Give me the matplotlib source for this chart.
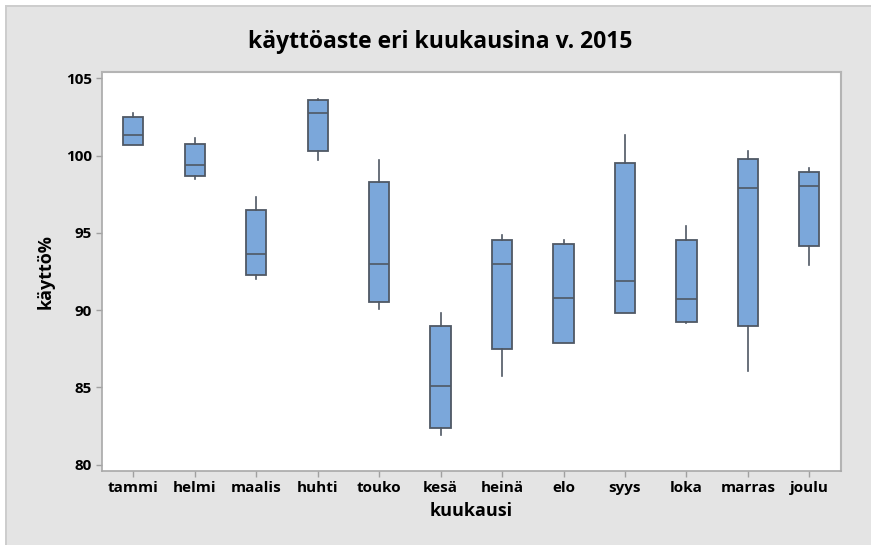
import matplotlib
matplotlib.use("Agg")
import matplotlib.pyplot as plt
from matplotlib.patches import Rectangle

months = ["tammi", "helmi", "maalis", "huhti", "touko", "kesä",
          "heinä", "elo", "syys", "loka", "marras", "joulu"]
whisker_low = [100.65, 98.48, 91.99, 99.68, 90.10, 81.94, 85.77, 87.86, 89.79, 89.15, 86.05, 92.91]
q1 = [100.65, 98.65, 92.25, 100.31, 90.50, 82.37, 87.49, 87.86, 89.79, 89.26, 88.95, 94.18]
median = [101.30, 99.39, 93.64, 102.78, 92.97, 85.10, 92.97, 90.76, 91.88, 90.70, 97.92, 98.01]
q3 = [102.50, 100.76, 96.46, 103.60, 98.29, 88.95, 94.55, 94.26, 99.49, 94.52, 99.75, 98.94]
whisker_high = [102.78, 101.13, 97.30, 103.66, 99.73, 89.84, 94.87, 94.52, 101.30, 95.43, 100.29, 99.19]
yticks = [80, 85, 90, 95, 100, 105]

title = "käyttöaste eri kuukausina v. 2015"
xlabel = "kuukausi"
ylabel = "käyttö%"

plt.rcParams['font.family'] = ['Open Sans', 'DejaVu Sans']

W, H = 871, 545
fig = plt.figure(figsize=(W / 100, H / 100), dpi=100)
fig.patch.set_facecolor("white")
# gray panel with shadow edge
fig.patches.append(Rectangle((5 / W, 0), 1 - 5 / W, 1 - 5 / H, transform=fig.transFigure,
                             facecolor="#e4e4e4", edgecolor="none", zorder=-3))
fig.patches.append(Rectangle((5 / W, 0), 2 / W, 1 - 5 / H, transform=fig.transFigure,
                             facecolor="#cdcdcd", edgecolor="none", zorder=-2))
fig.patches.append(Rectangle((5 / W, 1 - 7 / H), 1 - 5 / W, 2 / H, transform=fig.transFigure,
                             facecolor="#cdcdcd", edgecolor="none", zorder=-2))

left, right, top, bottom = 101.7, 840.7, 72, 471
ax = fig.add_axes([left / W, 1 - bottom / H, (right - left) / W, (bottom - top) / H])
ax.set_facecolor("white")

stats = []
for i, m in enumerate(months):
    stats.append(dict(label=m, whislo=whisker_low[i], q1=q1[i], med=median[i],
                      q3=q3[i], whishi=whisker_high[i], fliers=[]))

ax.bxp(stats, positions=list(range(1, len(months) + 1)), widths=0.33,
       patch_artist=True, showcaps=False,
       boxprops=dict(facecolor="#7ba7da", edgecolor="#4f5864", linewidth=1.3),
       medianprops=dict(color="#4f5864", linewidth=1.2),
       whiskerprops=dict(color="#4f5864", linewidth=1.2))

ax.set_xlim(0.485, 12.51)
ax.set_ylim(79.6, 105.4)
ax.set_yticks(yticks)
ax.set_yticklabels([str(t) for t in yticks], fontsize=11, fontweight="bold")
ax.set_xticks(range(1, len(months) + 1))
ax.set_xticklabels(months, fontsize=11, fontweight="bold")
ax.tick_params(axis="both", direction="out", length=4, width=1, color="#a0a0a0", pad=3)

for s in ["left", "bottom"]:
    ax.spines[s].set_color("#a8a8a8")
    ax.spines[s].set_linewidth(1.2)
for s in ["top", "right"]:
    ax.spines[s].set_color("#b4b4b4")
    ax.spines[s].set_linewidth(1.5)

ax.set_xlabel(xlabel, fontsize=13, fontweight="bold", labelpad=5)
ax.set_ylabel(ylabel, fontsize=13, fontweight="bold", labelpad=8)
fig.text(440 / W, 1 - 42 / H, title, fontsize=16.5, fontweight="bold", ha="center", va="center")

fig.savefig("out.png", dpi=100, facecolor=fig.get_facecolor())
